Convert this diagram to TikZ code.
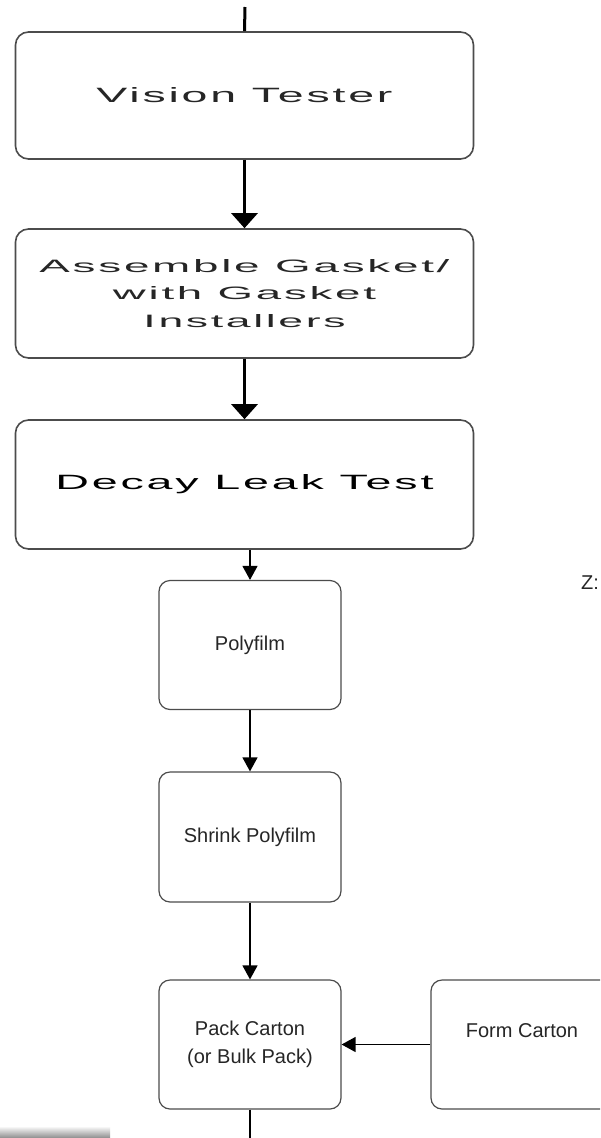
\documentclass[tikz,border=0pt]{standalone}
\usepackage{graphicx}
\usepackage{fontspec}
\setmainfont{Liberation Sans}
\newfontfamily\widefont[LetterSpace=6]{Liberation Sans}
\usetikzlibrary{arrows.meta}
\newcommand{\wtxt}[3]{\resizebox{#1pt}{#2pt}{\widefont #3}}
\begin{document}
\begin{tikzpicture}[x=1pt,y=-1pt,
  bigbox/.style={draw=black!70, line width=1.6pt, rounded corners=13pt,
    minimum width=458pt, inner sep=0pt, align=center, text=black!85,
    font=\fontsize{18}{27.5}\selectfont},
  smallbox/.style={draw=black!70, line width=1.2pt, rounded corners=11pt,
    minimum width=182pt, minimum height=129pt, inner sep=0pt, align=center,
    font=\fontsize{20}{28}\selectfont, text=black!85},
  bigarrow/.style={line width=3pt, -{Triangle[width=26pt,length=15pt]}},
  smallarrow/.style={line width=1.3pt, -{Triangle[width=15pt,length=14pt]}},
  plainline/.style={line width=1.3pt}]
\clip (0,0) rectangle (600,1138);
\fill[white] (0,0) rectangle (600,1138);
% bottom-left grey bar
\shade[top color=white, bottom color=black!45] (0,1126) rectangle (110,1138);

% top boxes
\node[bigbox, minimum height=127pt] (vt) at (244.5,95.5) {\wtxt{296}{15}{Vision Tester}};
\node[bigbox, minimum height=129pt] (ag) at (244.5,293.5)
  {\wtxt{410}{13}{Assemble Gasket/}\\\wtxt{263}{13}{with Gasket}\\\wtxt{202}{13}{Installers}};
\node[bigbox, minimum height=129pt, text=black] (dlt) at (244.5,484.5) {\wtxt{378}{15}{Decay Leak Test}};

% lower boxes
\node[smallbox] (poly) at (250,645) {Polyfilm};
\node[smallbox, minimum height=130pt] (shrink) at (250,837) {Shrink Polyfilm};
\node[smallbox] (pack) at (250,1044.5) {Pack Carton\\(or Bulk Pack)};
\node[smallbox] (form) at (522,1044.5) {Form Carton\\~};

\node[anchor=west, inner sep=0pt, font=\fontsize{20}{24}\selectfont, text=black!85] (z) at (581,583) {Z:};

% connectors
\coordinate (topin) at (245,7);
\coordinate (botout) at (250,1138);
\draw[line width=3pt] (topin) -- (vt.north);
\draw[bigarrow] (vt.south) -- (ag.north);
\draw[bigarrow] (ag.south) -- (dlt.north);
\draw[smallarrow] (poly.north |- dlt.south) -- (poly.north);
\draw[smallarrow] (poly.south) -- (shrink.north);
\draw[smallarrow] (shrink.south) -- (pack.north);
\draw[smallarrow] (form.west) -- (pack.east);
\draw[plainline] (pack.south) -- (botout);
\end{tikzpicture}
\end{document}
